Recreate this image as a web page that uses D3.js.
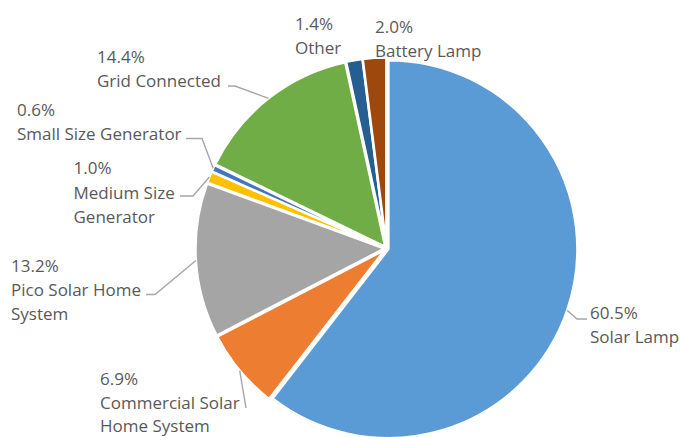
<!DOCTYPE html>
<html><head><meta charset="utf-8">
<script src="https://cdn.jsdelivr.net/npm/d3@7"></script>
<style>html,body{margin:0;padding:0;background:#fff;overflow:hidden;} svg{display:block;}</style>
</head><body>
<svg id="chart" width="680" height="437"></svg>
<script>
// ---- data ----
const categories = ["Solar Lamp", "Commercial Solar Home System", "Pico Solar Home System",
  "Medium Size Generator", "Small Size Generator", "Grid Connected", "Other", "Battery Lamp"];
const shares = [60.5, 6.9, 13.2, 1.0, 0.6, 14.4, 1.4, 2.0];
const nameLines = [["Solar Lamp"], ["Commercial Solar", "Home System"], ["Pico Solar Home", "System"],
  ["Medium Size", "Generator"], ["Small Size Generator"], ["Grid Connected"], ["Other"], ["Battery Lamp"]];
const colors = ["#5B9BD5", "#ED7D31", "#A5A5A5", "#FFC000", "#4472C4", "#70AD47", "#255E91", "#9E480E"];

// ---- layout (positions / styles) ----
const cx = 386.5, cy = 248.5, R = 189, explode = 2;
const lineH = 24.3;
const labelLayout = {
  "Solar Lamp": {x: 590, y: 319, lh: lineH, leader: [[577, 319], [587, 319]]},
  "Commercial Solar Home System": {x: 100, y: 385, lh: 23.6, leader: [[246, 408]]},
  "Pico Solar Home System": {x: 11, y: 271.7, lh: lineH, leader: [[155, 294.5], [146, 294.5]]},
  "Medium Size Generator": {x: 73.5, y: 174.3, lh: lineH, leader: [[193, 196], [180, 196]]},
  "Small Size Generator": {x: 17, y: 116, lh: lineH, leader: [[202, 138.5], [186, 138.5]]},
  "Grid Connected": {x: 97, y: 62.7, lh: lineH, leader: [[235, 86], [228, 86]]},
  "Other": {x: 295, y: 30, lh: lineH, leader: null},
  "Battery Lamp": {x: 375, y: 32.5, lh: lineH, leader: null}
};

const svg = d3.select("#chart");
const g = svg.append("g").attr("transform", `translate(${cx},${cy})`);

const pie = d3.pie().sort(null).value(d => d.v).startAngle(0).endAngle(2 * Math.PI);
const data = categories.map((c, i) => ({c, v: shares[i], color: colors[i], lines: nameLines[i]}));
const arcs = pie(data);
const arc = d3.arc().innerRadius(0).outerRadius(R);

function dirOf(a) { return [Math.sin(a), -Math.cos(a)]; }

g.selectAll("path.slice").data(arcs).enter().append("path")
  .attr("class", "slice")
  .attr("d", arc)
  .attr("fill", d => d.data.color)
  .attr("stroke", "#ffffff")
  .attr("stroke-width", 2.5)
  .attr("stroke-linejoin", "miter")
  .attr("transform", d => {
    const m = (d.startAngle + d.endAngle) / 2;
    const [dx, dy] = dirOf(m);
    return `translate(${dx * explode},${dy * explode})`;
  });

// leader lines
const leaderG = svg.append("g");
arcs.forEach(d => {
  const L = labelLayout[d.data.c];
  if (!L || !L.leader) return;
  const m = (d.startAngle + d.endAngle) / 2;
  const [dx, dy] = dirOf(m);
  const start = [cx + dx * (R + explode), cy + dy * (R + explode)];
  const pts = [start].concat(L.leader);
  leaderG.append("path")
    .attr("d", d3.line()(pts))
    .attr("fill", "none")
    .attr("stroke", "#A6A6A6")
    .attr("stroke-width", 1.4);
});

// labels
const labG = svg.append("g")
  .attr("font-family", "'Open Sans', sans-serif")
  .attr("font-size", 17)
  .attr("fill", "#595959");
arcs.forEach(d => {
  const L = labelLayout[d.data.c];
  const lines = [d3.format(".1f")(d.data.v) + "%"].concat(d.data.lines);
  const t = labG.append("text").attr("x", L.x).attr("y", L.y);
  lines.forEach((ln, i) => {
    t.append("tspan").attr("x", L.x).attr("y", L.y + i * L.lh).text(ln);
  });
});
</script>
</body></html>
